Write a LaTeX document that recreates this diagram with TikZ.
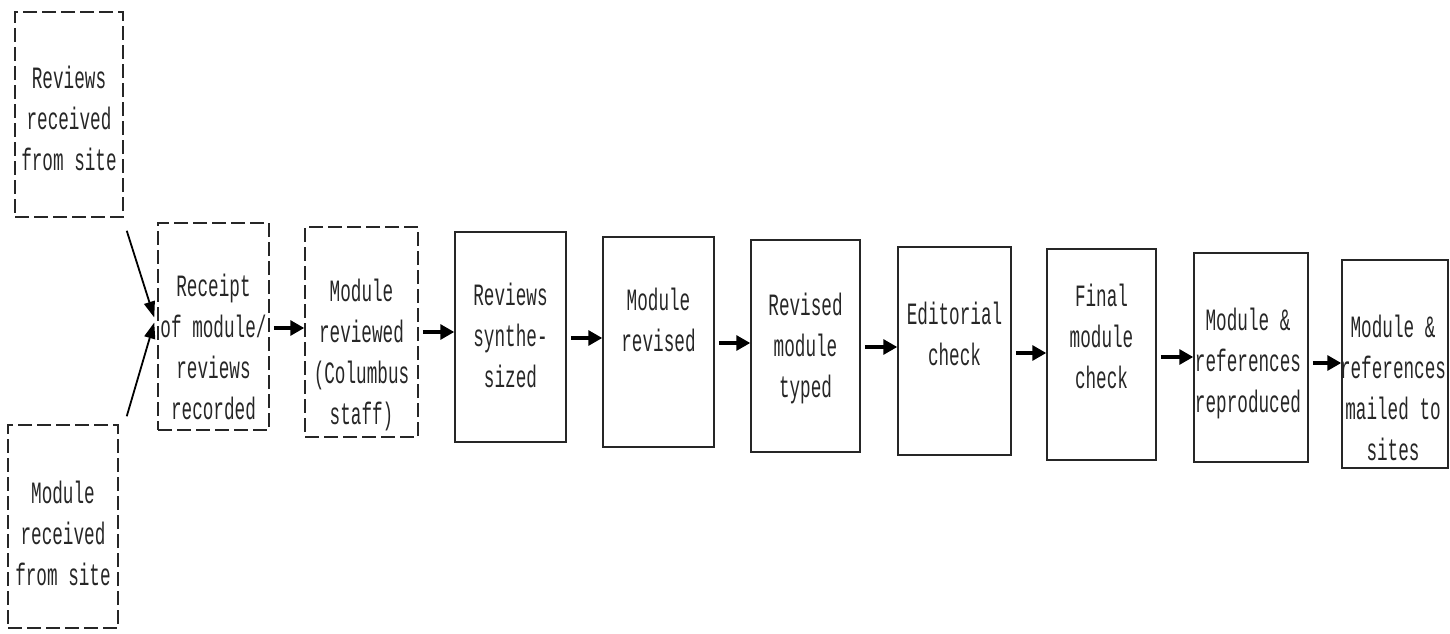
\documentclass[tikz,border=0pt]{standalone}
\usepackage{fontspec}
\newfontfamily\typew[FakeStretch=0.57]{Liberation Mono}
\usetikzlibrary{arrows.meta,calc}
\begin{document}
\begin{tikzpicture}[x=1pt,y=-1pt,
  boxs/.style={draw=black!85,line width=1.5pt,rectangle,inner sep=0pt},
  boxd/.style={boxs,dash pattern=on 14pt off 5pt},
  txt/.style={align=center,font=\typew\fontsize{31}{41}\selectfont,text=black!85,inner sep=0pt},
  arr/.style={line width=3.2pt,-{Triangle[length=14pt,width=15pt]},shorten <=4pt},
  darr/.style={line width=1.8pt,-{Triangle[length=16pt,width=11pt]}}]
\useasboundingbox (0,0) rectangle (1450,634);
% boxes
\node[boxd,minimum width=108pt,minimum height=205pt] (b1) at (69,114.5) {};
\node[boxd,minimum width=110pt,minimum height=203pt] (b2) at (63,526.5) {};
\node[boxd,minimum width=111pt,minimum height=207pt] (b3) at (213.5,326.5) {};
\node[boxd,minimum width=113pt,minimum height=210pt] (b4) at (361.5,332) {};
\node[boxs,minimum width=111pt,minimum height=210pt] (b5) at (510.5,337) {};
\node[boxs,minimum width=111pt,minimum height=210pt] (b6) at (658.5,342) {};
\node[boxs,minimum width=109pt,minimum height=212pt] (b7) at (805.5,346) {};
\node[boxs,minimum width=113pt,minimum height=208pt] (b8) at (954.5,351) {};
\node[boxs,minimum width=109pt,minimum height=211pt] (b9) at (1101.5,354.5) {};
\node[boxs,minimum width=114pt,minimum height=209pt] (b10) at (1251,357.5) {};
\node[boxs,minimum width=106pt,minimum height=208pt] (b11) at (1395,364) {};
% texts
\node[txt] (t1) at (69,118) {Reviews\\received\\from site};
\node[txt] (t2) at (63,533) {Module\\received\\from site};
\node[txt] (t3) at (213.5,347) {Receipt\\of module/\\reviews\\recorded};
\node[txt] (t4) at (361.5,355) {Module\\reviewed\\(Columbus\\staff)};
\node[txt] (t5) at (510.5,335) {Reviews\\synthe-\\sized};
\node[txt] (t6) at (658.5,320) {Module\\revised};
\node[txt] (t7) at (805.5,348) {Revised\\module\\typed};
\node[txt] (t8) at (954.5,334) {Editorial\\check};
\node[txt] (t9) at (1101.5,336) {Final\\module\\check};
\node[txt] (t10) at (1248,363) {Module \&\\references\\reproduced};
\node[txt] (t11) at (1393,388) {Module \&\\references\\mailed to\\sites};
% connectors
\draw[darr] ($(b1.south east)+(3,13)$) -- ($(b3.west)+(-3,-9)$);
\draw[darr] ($(b2.north east)+(8,-8)$) -- ($(b3.west)+(-3,-4)$);
\draw[arr] (b3.east |- 0,328) -- (b4.west |- 0,328);
\draw[arr] (b4.east |- 0,332) -- (b5.west |- 0,332);
\draw[arr] (b5.east |- 0,338) -- (b6.west |- 0,338);
\draw[arr] (b6.east |- 0,343) -- (b7.west |- 0,343);
\draw[arr] (b7.east |- 0,347) -- (b8.west |- 0,347);
\draw[arr] (b8.east |- 0,353) -- (b9.west |- 0,353);
\draw[arr] (b9.east |- 0,357) -- (b10.west |- 0,357);
\draw[arr] (b10.east |- 0,363) -- (b11.west |- 0,363);
\end{tikzpicture}
\end{document}
